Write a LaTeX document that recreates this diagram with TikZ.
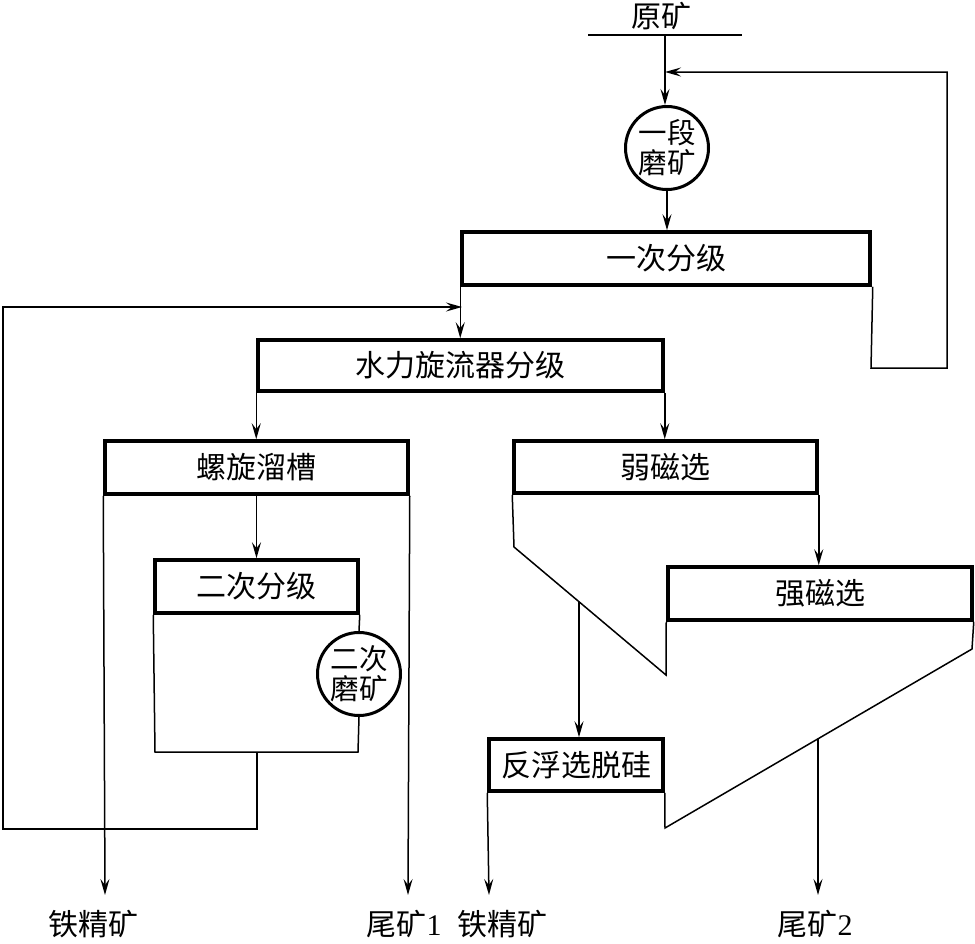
\documentclass[tikz,border=0pt]{standalone}
\usepackage{fontspec}
\setmainfont{Liberation Serif}
\newfontfamily\cjk{Noto Sans CJK SC}
\usetikzlibrary{arrows.meta,calc}
\begin{document}
\begin{tikzpicture}[x=1pt,y=-1pt,
  thin line/.style={line width=1.5pt},
  arr/.style={thin line,-{Stealth[length=16pt,width=9pt,inset=6pt]}},
  proc/.style={draw,line width=3.5pt,inner sep=0pt,font=\cjk\fontsize{30}{33}\selectfont},
  mill/.style={draw,circle,line width=3pt,minimum size=83pt,inner sep=0pt,align=center,font=\cjk\fontsize{28.5}{30}\selectfont},
  lbl/.style={inner sep=0pt,font=\fontsize{30}{33}\selectfont}]
\useasboundingbox (0,0) rectangle (975,943);

% nodes
\node[lbl] (ore) at (661,16) {{\cjk 原矿}};
\node[mill] (c1) at (667,148) {一段\\磨矿};
\node[proc,minimum width=408pt,minimum height=53pt] (b1) at (666,258.5) {一次分级};
\node[proc,minimum width=405pt,minimum height=51pt] (b2) at (460.5,365.5) {水力旋流器分级};
\node[proc,minimum width=303pt,minimum height=53pt] (b3) at (256.5,467.5) {螺旋溜槽};
\node[proc,minimum width=203pt,minimum height=53pt] (b4) at (256.5,586.5) {二次分级};
\node[mill] (c2) at (359,674) {二次\\磨矿};
\node[proc,minimum width=303pt,minimum height=52pt] (b5) at (665.5,467) {弱磁选};
\node[proc,minimum width=304pt,minimum height=53pt] (b6) at (820,593.5) {强磁选};
\node[proc,minimum width=174pt,minimum height=52pt] (b7) at (576,765) {反浮选脱硅};

\node[lbl] (out1) at (93,924) {{\cjk 铁精矿}};
\node[lbl] (out2) at (404,924) {{\cjk 尾矿}1};
\node[lbl] (out3) at (502,924) {{\cjk 铁精矿}};
\node[lbl] (out4) at (815,924) {{\cjk 尾矿}2};

% coordinates
\coordinate (feedL) at (588,35);
\coordinate (feedR) at (742,35);
\coordinate (feed) at (665,35);
\coordinate (ret) at (665,72);
\coordinate (loopin) at (462,307);
\coordinate (f1) at (579,601.7);
\coordinate (f2) at (818,738.8);
\coordinate (e1) at (105,895);
\coordinate (e2) at (408,895);
\coordinate (e3) at (489,895);
\coordinate (e4) at (818,895);

% feed
\draw[thin line] (feedL) -- (feedR);
\draw[arr] (feed) -- (c1.north -| feed);
\draw[arr] (c1.south) -- (b1.north -| c1.south);
% first classification recycle
\draw[arr] ($(b1.south east)+(1,0)$) -- (871,368) -- (947,368) -- (947,72) -- (ret);
% to hydrocyclone
\draw[arr] (b1.south west) -- (b2.north -| b1.south west);
% hydrocyclone outputs
\draw[arr] (b2.south west) -- (b3.north -| b2.south west);
\draw[arr] (b2.south east) -- (b5.north -| b2.south east);
% spiral chute
\draw[arr] (b3.south west) -- (e1);
\draw[arr] (b3.south east) -- (e2);
\draw[arr] (b3.south) -- (b4.north);
% secondary classification and grinding
\draw[thin line] (b4.south west) -- (155,752) -- (358,752) -- (c2.south);
\draw[thin line] (b4.south east) -- (c2.north);
\draw[arr] (257,752) -- (257,829) -- (3,829) -- (3,307) -- (loopin);
% magnetic
\draw[arr] (b5.south east) -- (b6.north -| b5.south east);
\draw[thin line] (b5.south west) -- (514,547) -- (666,675) -- (b6.south west);
\draw[arr] (f1) -- (b7.north -| f1);
\draw[thin line] (b6.south east) -- (972,649) -- (665,828) -- (b7.south east);
\draw[arr] (f2) -- (e4);
\draw[arr] (b7.south west) -- (e3);
\end{tikzpicture}
\end{document}
